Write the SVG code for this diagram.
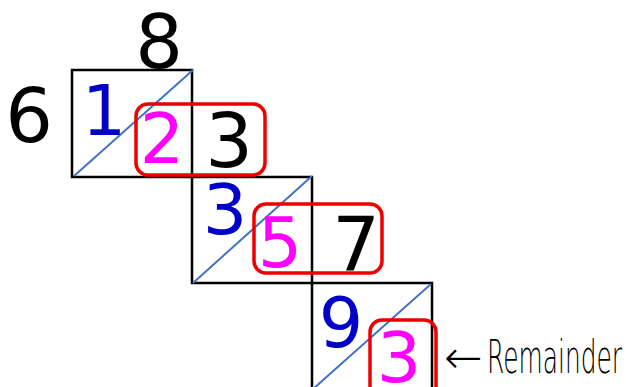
<svg xmlns="http://www.w3.org/2000/svg" width="626" height="387" viewBox="0 0 626 387">
<style>
.box{fill:none;stroke:#000;stroke-width:2.5}
.diag{stroke:#4472c4;stroke-width:2}
.hl{fill:none;stroke:#ee0000;stroke-width:3.5}
.d{font-family:"DejaVu Sans",sans-serif;text-anchor:middle}
.big{font-size:75px;fill:#000}
.blue{font-size:70px;fill:#0000c8}
.mag{font-size:70px;fill:#ff00ff}
.lbl{font-family:"DejaVu Sans","Liberation Sans",sans-serif;font-weight:200;font-size:46px;fill:#000}
</style>
<rect width="626" height="387" fill="#fff"/>
<g id="labels">
<text class="d big" x="159" y="68">8</text>
<text class="d big" x="29" y="142">6</text>
</g>
<g id="cell1">
<rect class="box" x="72" y="70" width="120" height="107"/>
<line class="diag" x1="74" y1="176" x2="193" y2="70"/>
<text class="d blue" x="104" y="135">1</text>
</g>
<g id="cell2">
<rect class="box" x="192" y="177" width="120" height="106"/>
<line class="diag" x1="193" y1="283" x2="312" y2="176"/>
<text class="d blue" x="225" y="234">3</text>
</g>
<g id="cell3">
<rect class="box" x="312" y="283" width="120" height="110"/>
<line class="diag" x1="313" y1="389" x2="431" y2="284"/>
<text class="d blue" x="341" y="347">9</text>
</g>
<g id="group1">
<rect class="hl" x="136" y="104" width="129" height="71" rx="12"/>
<text class="d mag" x="162" y="163">2</text>
<text class="d big" x="229" y="167">3</text>
</g>
<g id="group2">
<rect class="hl" x="254" y="204" width="128" height="69" rx="12"/>
<text class="d mag" x="280" y="267">5</text>
<text class="d big" x="356" y="270">7</text>
</g>
<g id="group3">
<rect class="hl" x="370" y="320" width="66" height="80" rx="12"/>
<text class="d mag" x="399" y="382">3</text>
</g>
<g id="remainder">
<text class="lbl" y="373"><tspan x="444">←</tspan><tspan x="487" textLength="135" lengthAdjust="spacingAndGlyphs">Remainder</tspan></text>
</g>
</svg>
